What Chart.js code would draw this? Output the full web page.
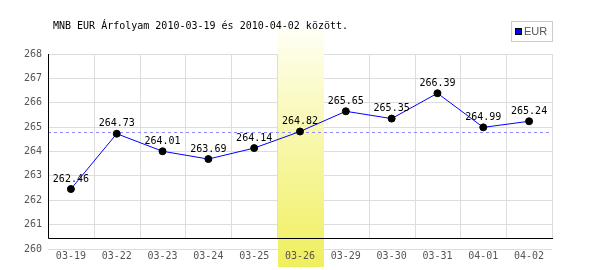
<!DOCTYPE html>
<html>
<head>
<meta charset="utf-8">
<script src="https://cdn.jsdelivr.net/npm/chart.js@4.4.1/dist/chart.umd.min.js"></script>
<style>
  html, body { margin: 0; padding: 0; background: #fff; }
</style>
</head>
<body>
<canvas id="chart" width="600" height="270"></canvas>
<script>
const title = "MNB EUR Árfolyam 2010-03-19 és 2010-04-02 között.";
const seriesName = "EUR";
const dates = ["03-19", "03-22", "03-23", "03-24", "03-25", "03-26", "03-29", "03-30", "03-31", "04-01", "04-02"];
const rates = [262.46, 264.73, 264.01, 263.69, 264.14, 264.82, 265.65, 265.35, 266.39, 264.99, 265.24];
const yMin = 260;
const yMax = 268;
const highlightIndex = 5; // 03-26 kiemelve

const mono = '"DejaVu Sans Mono", monospace';
const gridColor = '#dddddd';

// hatter sav, tengelyek, szaggatott vonal
const decorBelow = {
  id: 'decorBelow',
  beforeDatasetsDraw(chart) {
    const { ctx, chartArea: a, scales: { x, y } } = chart;
    const step = (a.right - a.left) / dates.length;
    const axisY = a.bottom - 11;

    ctx.save();
    // fuggoleges racsvonalak
    ctx.strokeStyle = gridColor;
    ctx.lineWidth = 1;
    for (let i = 1; i <= dates.length; i++) {
      const px = Math.round(x.getPixelForValue(i - 1) + step / 2) + 0.5;
      ctx.beginPath();
      ctx.moveTo(px, a.top);
      ctx.lineTo(px, axisY);
      ctx.stroke();
    }

    // kiemelt nap sav
    const bx = x.getPixelForValue(highlightIndex) - step / 2;
    const grad = ctx.createLinearGradient(0, 28, 0, 267);
    grad.addColorStop(0, '#fffff6');
    grad.addColorStop(0.25, '#fbfbcc');
    grad.addColorStop(1, '#f0ef5e');
    ctx.fillStyle = grad;
    ctx.fillRect(Math.round(bx) + 1, 28, Math.round(step), 239);

    // szaggatott vonal a kiemelt nap erteken
    const dy = Math.round(y.getPixelForValue(rates[highlightIndex])) + 0.5;
    ctx.strokeStyle = '#8c8cff';
    ctx.setLineDash([3, 3]);
    ctx.beginPath();
    ctx.moveTo(a.left, dy);
    ctx.lineTo(a.right, dy);
    ctx.stroke();
    ctx.setLineDash([]);

    // tengelyek
    ctx.strokeStyle = '#000';
    ctx.beginPath();
    ctx.moveTo(a.left + 0.5, a.top);
    ctx.lineTo(a.left + 0.5, axisY + 0.5);
    ctx.lineTo(a.right + 1, axisY + 0.5);
    ctx.stroke();
    ctx.restore();
  },
  afterDatasetsDraw(chart) {
    const { ctx } = chart;
    const meta = chart.getDatasetMeta(0);
    ctx.save();
    ctx.font = '10px ' + mono;
    ctx.fillStyle = '#000';
    ctx.textAlign = 'center';
    ctx.textBaseline = 'middle';
    meta.data.forEach((pt, i) => {
      ctx.fillText(rates[i].toFixed(2), pt.x, pt.y - 10);
    });
    ctx.restore();
  },
  afterDraw(chart) {
    const { ctx } = chart;
    ctx.save();
    // cim
    ctx.font = '10px ' + mono;
    ctx.fillStyle = '#000';
    ctx.textAlign = 'left';
    ctx.textBaseline = 'middle';
    ctx.fillText(title, 53, 26);

    // jelmagyarazat
    ctx.strokeStyle = '#cccccc';
    ctx.lineWidth = 1;
    ctx.strokeRect(511.5, 21.5, 41, 20);
    ctx.fillStyle = '#0000ff';
    ctx.fillRect(516, 29, 6, 6);
    ctx.strokeStyle = '#000';
    ctx.strokeRect(515.5, 28.5, 6, 6);
    ctx.fillStyle = '#555';
    ctx.font = '11px "Liberation Sans", sans-serif';
    ctx.fillText(chart.data.datasets[0].label, 524, 32);
    ctx.restore();
  }
};

new Chart(document.getElementById('chart'), {
  type: 'line',
  data: {
    labels: dates,
    datasets: [{
      label: seriesName,
      data: rates,
      borderColor: '#0000ff',
      borderWidth: 1,
      tension: 0,
      pointRadius: 3.5,
      pointBackgroundColor: '#000',
      pointBorderColor: '#000',
      pointBorderWidth: 1
    }]
  },
  options: {
    responsive: false,
    animation: false,
    devicePixelRatio: 1,
    layout: { padding: { top: 54, right: 48, left: 0, bottom: 0 } },
    plugins: {
      legend: { display: false },
      title: { display: false },
      tooltip: { enabled: false }
    },
    scales: {
      x: {
        offset: true,
        grid: { display: false },
        border: { display: false },
        ticks: {
          z: 1,
          padding: -7,
          color: '#555',
          font: { family: mono, size: 10 },
          maxRotation: 0,
          autoSkip: false
        },
        afterFit: (scale) => { scale.height = 21; }
      },
      y: {
        min: yMin,
        max: yMax,
        grid: { color: gridColor, drawTicks: false },
        border: { display: false },
        ticks: {
          stepSize: 1,
          padding: 6,
          color: '#555',
          font: { family: mono, size: 10 }
        },
        afterFit: (scale) => { scale.width = 48; }
      }
    }
  },
  plugins: [decorBelow]
});
</script>
</body>
</html>
